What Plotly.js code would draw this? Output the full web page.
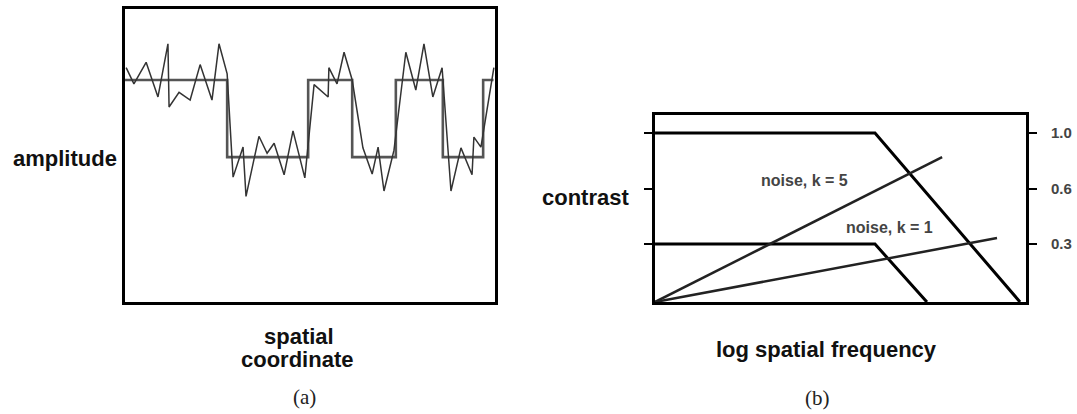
<!DOCTYPE html>
<html lang="en">
<head>
    <meta charset="UTF-8">
    <title>Signal and noise: amplitude and contrast</title>
    <script src='https://cdn.plot.ly/plotly-3.0.0.min.js'></script>
</head>
<body style="margin:0; background:white;">
    <div id="plot"></div>

    <script>
        // (a) square wave signal, x in % of the frame, level 1 = high, 0 = low
        const edgeX = [0, 27.6, 49.5, 61.4, 73.2, 85.9, 96.8, 99.6];
        const edgeLevel = [1, 0, 1, 0, 1, 0, 1, 1];

        // (a) same signal with noise added
        const noisyX = [0.3, 2.4, 5.7, 8.9, 11.6, 11.9, 14.6, 17.6, 20.3, 23.5, 25.4, 27.6,
                        29.2, 31.9, 32.7, 36.2, 38.4, 40.3, 43.0, 45.4, 48.6, 51.1, 54.9, 55.1,
                        57.3, 59.2, 61.4, 64.3, 66.8, 68.4, 70.0, 72.7, 75.9, 78.6, 80.8, 83.2,
                        85.7, 88.1, 90.8, 93.8, 94.3, 96.2, 99.7];
        const noisyY = [1.16, 0.95, 1.23, 0.78, 1.47, 0.65, 0.84, 0.74, 1.20, 0.74, 1.47, 1.08,
                        -0.26, 0.13, -0.51, 0.27, 0.05, 0.18, -0.23, 0.34, -0.27, 0.94, 0.78, 1.16,
                        0.95, 1.36, 1.00, 0.12, -0.22, 0.13, -0.44, 0.09, 1.36, 0.87, 1.47, 0.78,
                        1.16, -0.44, 0.12, -0.23, 0.26, 0.13, 1.16];

        // (b) contrast curves (schematic axes 0..1)
        const highX = [0, 0.593, 0.984];
        const highY = [0.904, 0.904, 0];
        const lowX = [0, 0.593, 0.733];
        const lowY = [0.31, 0.31, 0];

        // (b) noise lines
        const k5X = [0, 0.774];
        const k5Y = [0, 0.775];
        const k1X = [0, 0.922];
        const k1Y = [0, 0.342];

        // (b) contrast ticks
        const contrastTickVals = [0.31, 0.604, 0.904];
        const contrastTickText = ['0.3', '0.6', '1.0'];

        const sans = 'Liberation Sans, Arial, sans-serif';
        const serif = 'Liberation Serif, Times New Roman, serif';

        const squareWave = {
            x: edgeX, y: edgeLevel,
            type: 'scatter', mode: 'lines',
            line: {shape: 'hv', color: '#555', width: 2.6},
            xaxis: 'x', yaxis: 'y', hoverinfo: 'skip'
        };
        const noisy = {
            x: noisyX, y: noisyY,
            type: 'scatter', mode: 'lines',
            line: {color: '#333', width: 1.5},
            xaxis: 'x', yaxis: 'y', hoverinfo: 'skip'
        };
        const high = {
            x: highX, y: highY, type: 'scatter', mode: 'lines',
            line: {color: '#000', width: 3},
            xaxis: 'x2', yaxis: 'y2', hoverinfo: 'skip'
        };
        const low = {
            x: lowX, y: lowY, type: 'scatter', mode: 'lines',
            line: {color: '#000', width: 3},
            xaxis: 'x2', yaxis: 'y2', hoverinfo: 'skip'
        };
        const k5 = {
            x: k5X, y: k5Y, type: 'scatter', mode: 'lines',
            line: {color: '#222', width: 2.5},
            xaxis: 'x2', yaxis: 'y2', hoverinfo: 'skip'
        };
        const k1 = {
            x: k1X, y: k1Y, type: 'scatter', mode: 'lines',
            line: {color: '#222', width: 2.5},
            xaxis: 'x2', yaxis: 'y2', hoverinfo: 'skip'
        };

        // plain boxed axis, no ticks
        function frame(domain, range) {
            return {
                domain: domain, range: range,
                showline: true, mirror: true, linewidth: 3, linecolor: '#000',
                showgrid: false, zeroline: false, showticklabels: false, ticks: '',
                fixedrange: true
            };
        }

        function label(text, x, y, size, opts) {
            return Object.assign({
                text: text, x: x, y: y, xref: 'paper', yref: 'paper',
                xanchor: 'center', yanchor: 'middle', showarrow: false,
                font: {family: sans, size: size, color: '#111', weight: 'bold'}
            }, opts || {});
        }

        const layout = {
            width: 1077, height: 414,
            margin: {l: 0, r: 0, t: 0, b: 0},
            paper_bgcolor: 'white', plot_bgcolor: 'white',
            showlegend: false,
            xaxis: frame([0.1161, 0.4596], [0, 100]),
            yaxis: frame([0.2705, 0.978], [-1.88, 1.92]),
            xaxis2: Object.assign(frame([0.6082, 0.9526], [0, 1]), {anchor: 'y2'}),
            yaxis2: Object.assign(frame([0.2705, 0.7222], [0, 1]), {
                anchor: 'x2', side: 'right', mirror: 'ticks',
                ticks: 'outside', ticklen: 8, tickwidth: 2.5, tickcolor: '#000',
                tickvals: contrastTickVals, ticktext: contrastTickText,
                showticklabels: true, ticklabelstandoff: 11,
                tickfont: {family: sans, size: 15, color: '#444', weight: 'bold'}
            }),
            annotations: [
                label('amplitude', 0.0604, 0.616, 22),
                label('spatial', 0.278, 0.188, 22),
                label('coordinate', 0.2758, 0.131, 22),
                label('(a)', 0.2823, 0.041, 21, {font: {family: serif, size: 21, color: '#222'}}),
                label('contrast', 0.5441, 0.524, 22),
                label('log spatial frequency', 0.767, 0.157, 22),
                label('(b)', 0.7595, 0.039, 21, {font: {family: serif, size: 21, color: '#222'}}),
                {
                    text: 'noise, k = 5', x: 0.404, y: 0.652, xref: 'x2', yref: 'y2',
                    showarrow: false, xanchor: 'center', yanchor: 'middle',
                    font: {family: sans, size: 16, color: '#444', weight: 'bold'}
                },
                {
                    text: 'noise, k = 1', x: 0.632, y: 0.396, xref: 'x2', yref: 'y2',
                    showarrow: false, xanchor: 'center', yanchor: 'middle',
                    font: {family: sans, size: 16, color: '#444', weight: 'bold'}
                }
            ]
        };

        Plotly.newPlot('plot', [squareWave, noisy, high, low, k5, k1], layout, {staticPlot: true});
    </script>
</body>
</html>
